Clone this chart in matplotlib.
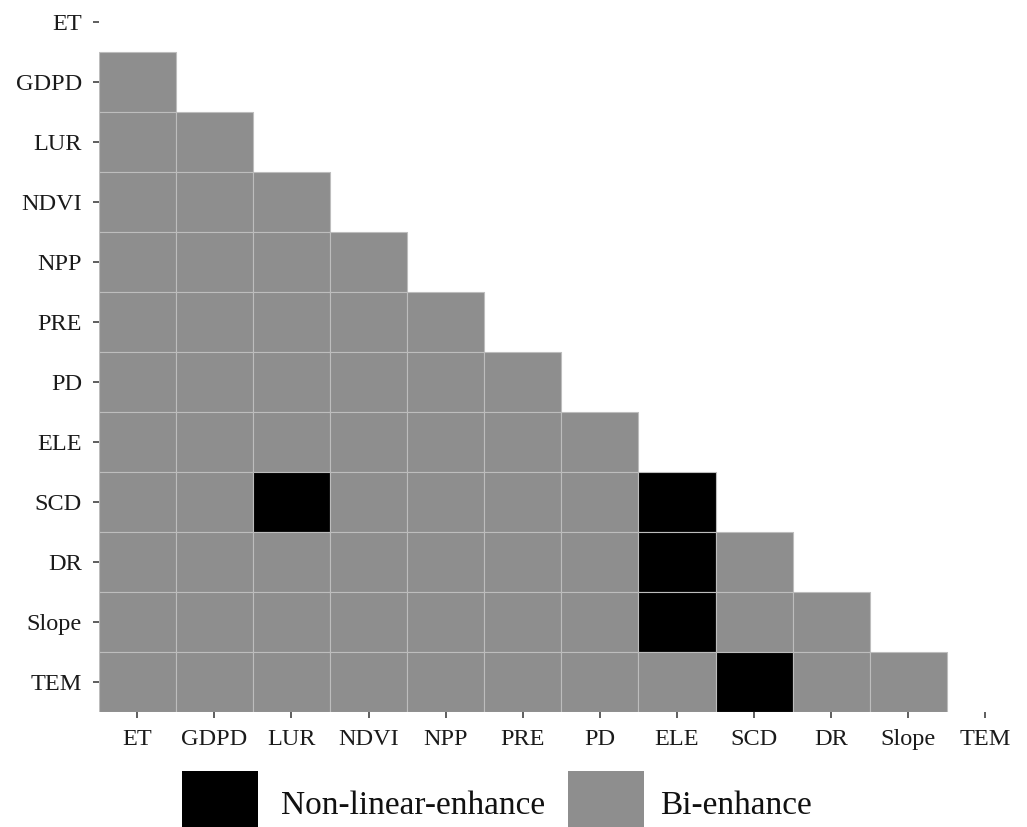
import numpy as np
import matplotlib
matplotlib.use('Agg')
import matplotlib.pyplot as plt
from matplotlib.patches import Rectangle

factors = ['ET', 'GDPD', 'LUR', 'NDVI', 'NPP', 'PRE', 'PD', 'ELE', 'SCD', 'DR', 'Slope', 'TEM']
# (row factor, column factor) pairs whose interaction is non-linear enhance; the rest are bi-enhance
nonlinear_pairs = [('SCD', 'LUR'), ('SCD', 'ELE'), ('DR', 'ELE'), ('Slope', 'ELE'), ('TEM', 'SCD')]
categories = ['Non-linear-enhance', 'Bi-enhance']
category_colors = ['#000000', '#8e8e8e']

plt.rcParams['font.family'] = ['Liberation Serif', 'DejaVu Serif']

fig = plt.figure(figsize=(10.27, 8.27), dpi=100)
fig.patch.set_facecolor('white')

# axes placed in pixels: x 98.7..1024, y -8..712 (top row runs off the figure)
W, H = 1027, 827
ax = fig.add_axes([98.7 / W, (H - 712) / H, (1024 - 98.7) / W, 720 / H])

n = len(factors)
for i, row in enumerate(factors):
    for j, col in enumerate(factors[:i]):
        kind = 0 if (row, col) in nonlinear_pairs else 1
        ax.bar(j, 1, bottom=i - 0.5, width=1, color=category_colors[kind],
               edgecolor='#bdbdbd', linewidth=0.8)

ax.set_xlim(-0.5, n - 0.5)
ax.set_ylim(n - 0.5, -0.5)
ax.set_xticks(range(n))
ax.set_xticklabels(factors)
ax.set_yticks(range(n))
ax.set_yticklabels(factors)
ax.tick_params(axis='both', length=4.5, width=1.1, color='#333333', labelsize=17.5, labelcolor='#1a1a1a')
ax.tick_params(axis='x', pad=7.5)
ax.tick_params(axis='y', pad=7.5)
for s in ax.spines.values():
    s.set_visible(False)

# legend along the bottom edge
legend_boxes = [181.5, 567.5]
legend_text_x = [281, 660]
for k, label in enumerate(categories):
    x0 = legend_boxes[k]
    fig.patches.append(Rectangle((x0 / W, 0), 76.5 / W, (H - 771) / H,
                                 transform=fig.transFigure, facecolor=category_colors[k],
                                 edgecolor='none'))
    fig.text(legend_text_x[k] / W, (H - 814) / H, label, fontsize=24,
             color='#111111', ha='left', va='baseline')

fig.savefig('out.png', dpi=100, facecolor='white')
plt.close(fig)
